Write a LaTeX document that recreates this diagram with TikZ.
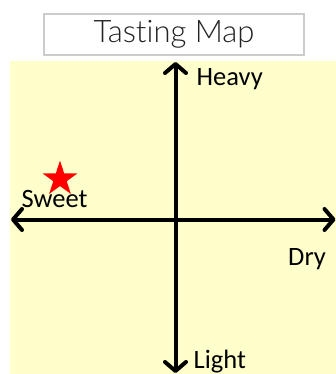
\documentclass[tikz,border=0pt]{standalone}
\usepackage{fontspec}
\usetikzlibrary{arrows.meta,shapes.geometric}
\setmainfont{Carlito}
\newfontfamily\titlefont[Ligatures=NoCommon]{Lato Light}
\definecolor{paper}{HTML}{FFFFCC}
\definecolor{boxgrey}{HTML}{CCCCCC}
\definecolor{titleink}{HTML}{222222}
\tikzset{
  axis/.style={line width=4pt,draw=black,{Straight Barb[length=9pt,width=21pt,line width=4pt,round]}-{Straight Barb[length=9pt,width=21pt,line width=4pt,round]}},
  axislabel/.style={font=\fontsize{26.5}{26.5}\selectfont,text=black,inner sep=0pt,anchor=base west},
  titlebox/.style={draw=boxgrey,line width=2.4pt,fill=white,minimum width=260pt,minimum height=41pt,inner sep=0pt},
  marker/.style={star,star points=5,star point ratio=2.618,fill=red,draw=none,minimum size=37pt,inner sep=0pt}
}
\begin{document}
\begin{tikzpicture}[x=1pt,y=-1pt]
\useasboundingbox (0,0) rectangle (336,374);
\fill[paper] (10,61) rectangle (336,374);
\node[titlebox] (title) at (174,34.5) {\raisebox{-2pt}{\titlefont\fontsize{31}{31}\selectfont\textcolor{titleink}{Tasting Map}}};
\node[marker] (star) at (60,179) {};
\coordinate (top) at (175.5,62);
\coordinate (bottom) at (175.5,373);
\coordinate (left) at (11,219.5);
\coordinate (right) at (335.5,219.5);
\draw[axis] (top) -- (bottom);
\draw[axis] (left) -- (right);
\node[axislabel] (heavy) at (196.5,86) {Heavy};
\node[axislabel] (sweet) at (21.5,207) {Sweet};
\node[axislabel] (dry) at (288,265) {Dry};
\node[axislabel] (light) at (193.5,368) {Light};
\end{tikzpicture}
\end{document}
